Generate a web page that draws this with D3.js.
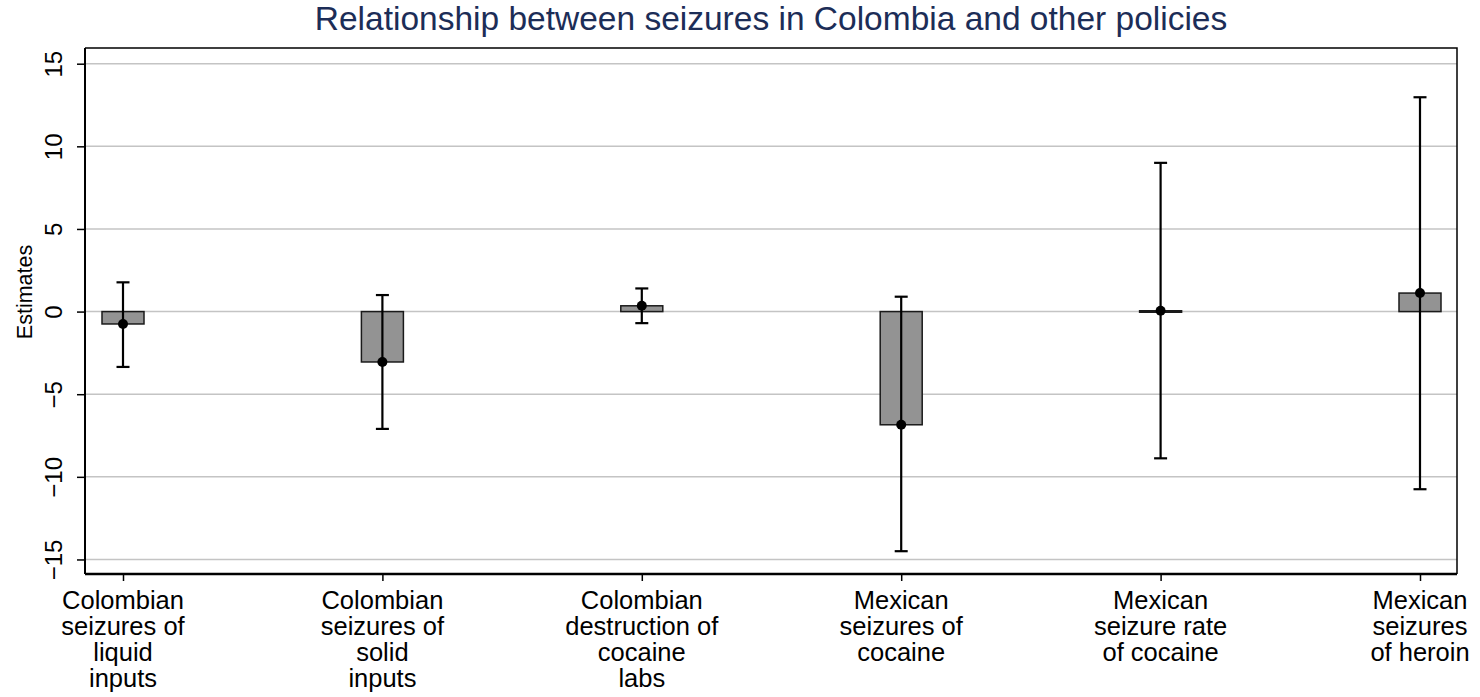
<!DOCTYPE html>
<html>
<head>
<meta charset="utf-8">
<script src="https://cdn.jsdelivr.net/npm/d3@7"></script>
<style>
  body { margin: 0; background: #fff; }
  svg text { font-family: 'Liberation Sans', Arial, sans-serif; }
</style>
</head>
<body>
<div id="chart"></div>
<script>
const categories = [
  ['Colombian', 'seizures of', 'liquid', 'inputs'],
  ['Colombian', 'seizures of', 'solid', 'inputs'],
  ['Colombian', 'destruction of', 'cocaine', 'labs'],
  ['Mexican', 'seizures of', 'cocaine'],
  ['Mexican', 'seizure rate', 'of cocaine'],
  ['Mexican', 'seizures', 'of heroin']
]
const estimates = [-0.75, -3.05, 0.35, -6.85, 0.05, 1.12]
const ciLow = [-3.35, -7.1, -0.7, -14.5, -8.88, -10.75]
const ciHigh = [1.77, 1.0, 1.4, 0.9, 9.0, 12.97]
const yTicks = [-15, -10, -5, 0, 5, 10, 15]

const width = 1480
const height = 697
const plotL = 85, plotR = 1457, plotT = 48, plotB = 574

const svg = d3.select('#chart')
  .append('svg')
  .attr('width', width)
  .attr('height', height)

const x = d3.scaleLinear().domain([0, categories.length - 1]).range([123, 1420])
const y = d3.scaleLinear().domain([-15.88, 15.95]).range([plotB, plotT])

// gridlines
svg.append('g')
  .selectAll('line')
  .data(yTicks)
  .join('line')
  .attr('x1', plotL).attr('x2', plotR)
  .attr('y1', (d) => y(d)).attr('y2', (d) => y(d))
  .attr('stroke', '#c4c4c4')
  .attr('stroke-width', 1.5)

// plot border (top, right)
svg.append('path')
  .attr('d', `M${plotL},${plotT}H${plotR}V${plotB}`)
  .attr('fill', 'none')
  .attr('stroke', '#000')
  .attr('stroke-width', 1.5)

// y axis
const yAxis = svg.append('g')
  .attr('transform', `translate(${plotL},0)`)
  .call(d3.axisLeft(y).tickValues(yTicks).tickSize(8).tickFormat((d) => d < 0 ? '\u2212' + Math.abs(d) : d))
yAxis.select('.domain').attr('d', `M0,${plotT}V${plotB}`).attr('stroke-width', 2)
yAxis.selectAll('.tick line').attr('stroke-width', 1.5)
yAxis.selectAll('.tick text')
  .attr('x', null).attr('dy', null)
  .attr('transform', 'translate(-23,0) rotate(-90)')
  .attr('text-anchor', 'middle')
  .attr('font-size', 24)
  .attr('fill', '#000')

// x axis
const xAxis = svg.append('g')
  .attr('transform', `translate(0,${plotB})`)
  .call(d3.axisBottom(x).tickValues(d3.range(categories.length)).tickSize(7).tickFormat(''))
xAxis.select('.domain').attr('d', `M${plotL},0H${plotR}`).attr('stroke-width', 2.5)
xAxis.selectAll('.tick line').attr('stroke-width', 1.5)

// category labels
svg.append('g')
  .selectAll('text')
  .data(categories)
  .join('text')
  .attr('x', (d, i) => x(i))
  .attr('y', 609)
  .attr('text-anchor', 'middle')
  .attr('font-size', 25.5)
  .attr('fill', '#000')
  .selectAll('tspan')
  .data((d, i) => d.map((t) => ({ t, i })))
  .join('tspan')
  .attr('x', (d) => x(d.i))
  .attr('dy', (d, j) => j === 0 ? 0 : 26)
  .text((d) => d.t)

// bars
const barW = 42
svg.append('g')
  .selectAll('rect')
  .data(estimates)
  .join('rect')
  .attr('x', (d, i) => x(i) - barW / 2)
  .attr('width', barW)
  .attr('y', (d) => y(Math.max(0, d)))
  .attr('height', (d) => Math.max(1.5, Math.abs(y(d) - y(0))))
  .attr('fill', '#939393')
  .attr('stroke', '#1a1a1a')
  .attr('stroke-width', 1.5)

// error bars
const capW = 13
const eb = svg.append('g').attr('stroke', '#000').attr('stroke-width', 2.2)
estimates.forEach((d, i) => {
  const cx = x(i)
  eb.append('line').attr('x1', cx).attr('x2', cx).attr('y1', y(ciLow[i])).attr('y2', y(ciHigh[i]))
  eb.append('line').attr('x1', cx - capW / 2).attr('x2', cx + capW / 2).attr('y1', y(ciLow[i])).attr('y2', y(ciLow[i]))
  eb.append('line').attr('x1', cx - capW / 2).attr('x2', cx + capW / 2).attr('y1', y(ciHigh[i])).attr('y2', y(ciHigh[i]))
})

// points
svg.append('g')
  .selectAll('circle')
  .data(estimates)
  .join('circle')
  .attr('cx', (d, i) => x(i))
  .attr('cy', (d) => y(d))
  .attr('r', 5)
  .attr('fill', '#000')

// axis title
svg.append('text')
  .attr('transform', 'translate(32,292) rotate(-90)')
  .attr('text-anchor', 'middle')
  .attr('font-size', 21.5)
  .attr('fill', '#000')
  .text('Estimates')

// title
svg.append('text')
  .attr('x', (plotL + plotR) / 2)
  .attr('y', 30)
  .attr('text-anchor', 'middle')
  .attr('font-size', 33.5)
  .attr('fill', '#1c2d57')
  .text('Relationship between seizures in Colombia and other policies')
</script>
</body>
</html>
